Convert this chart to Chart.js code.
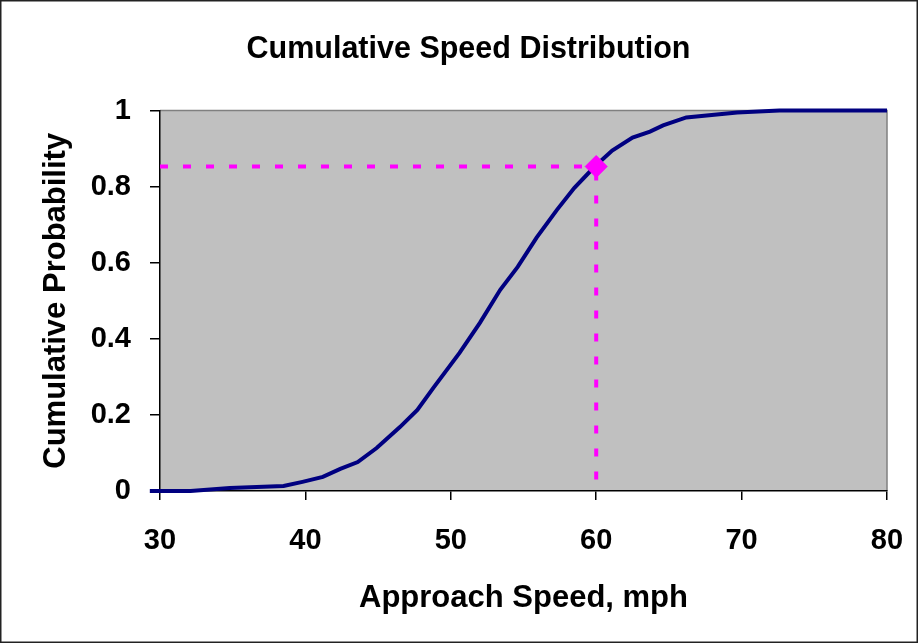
<!DOCTYPE html>
<html>
<head>
<meta charset="utf-8">
<title>Cumulative Speed Distribution</title>
<script src="https://cdn.jsdelivr.net/npm/chart.js@4.4.0/dist/chart.umd.min.js"></script>
<style>
  html, body { margin: 0; padding: 0; background: #fff; }
  #wrap { width: 918px; height: 643px; position: relative; }
</style>
</head>
<body>
<div id="wrap"><canvas id="speedChart"></canvas></div>
<script>
'use strict';

// approach speed (mph) and cumulative probability
const speeds = [29.3, 32.1, 34.8, 38.5, 39.8, 41.2, 42.4, 43.6, 44.9, 46.5, 47.7, 48.8,
  50.6, 52.0, 53.4, 54.6, 55.9, 57.3, 58.5, 59.9, 61.1, 62.5, 63.7, 64.6, 66.2, 69.7, 72.6, 80];
const cumProb = [0, 0, 0.008, 0.013, 0.024, 0.037, 0.058, 0.076, 0.113, 0.168, 0.213, 0.271,
  0.363, 0.442, 0.529, 0.589, 0.666, 0.739, 0.797, 0.853, 0.895, 0.929, 0.945, 0.961, 0.982, 0.995, 1, 1];

// the 85th percentile marker
const markSpeed = 60;
const markProb = 0.853;

const xTicks = [30, 40, 50, 60, 70, 80];
const yTicks = [0, 0.2, 0.4, 0.6, 0.8, 1];

const FONT = 'Arial, "Liberation Sans", sans-serif';
const MAGENTA = '#FF00FF';

const plotBackground = {
  id: 'plotBackground',
  beforeDraw(chart) {
    const { ctx, chartArea: a } = chart;
    ctx.save();
    ctx.fillStyle = '#C0C0C0';
    ctx.fillRect(a.left, a.top, a.right - a.left, a.bottom - a.top);
    ctx.strokeStyle = '#808080';
    ctx.lineWidth = 1.5;
    ctx.beginPath();
    ctx.moveTo(a.left, a.top);
    ctx.lineTo(a.right, a.top);
    ctx.lineTo(a.right, a.bottom);
    ctx.stroke();
    ctx.restore();
  },
  afterDraw(chart) {
    const { ctx, width, height } = chart;
    ctx.save();
    ctx.strokeStyle = '#222';
    ctx.lineWidth = 1.5;
    ctx.strokeRect(0.75, 0.75, width - 1.5, height - 1.5);
    ctx.restore();
  }
};

const ctx = document.getElementById('speedChart');
new Chart(ctx, {
  type: 'line',
  data: {
    datasets: [{
      label: 'horizontal guide',
      data: [{ x: 30, y: markProb }, { x: markSpeed, y: markProb }],
      borderColor: MAGENTA,
      borderWidth: 4,
      borderDash: [8, 15],
      pointRadius: 0,
      order: 3
    }, {
      label: 'vertical guide',
      data: [{ x: markSpeed, y: markProb }, { x: markSpeed, y: 0 }],
      borderColor: MAGENTA,
      borderWidth: 4,
      borderDash: [8, 15],
      borderDashOffset: -6,
      pointRadius: 0,
      order: 3
    }, {
      label: 'Cumulative',
      data: speeds.map((s, i) => ({ x: s, y: cumProb[i] })),
      borderColor: '#000080',
      borderWidth: 4,
      pointRadius: 0,
      tension: 0,
      clip: false,
      order: 2
    }, {
      label: '85th percentile',
      data: [{ x: markSpeed, y: markProb }],
      showLine: false,
      pointStyle: 'rectRot',
      pointRadius: 11,
      pointBackgroundColor: MAGENTA,
      pointBorderColor: MAGENTA,
      order: 1
    }]
  },
  options: {
    responsive: true,
    maintainAspectRatio: false,
    animation: false,
    events: [],
    // left padding pushes the chart title a little right, as in the original
    layout: { padding: { top: 0, left: 50, right: 31, bottom: 0 } },
    plugins: {
      legend: { display: false },
      tooltip: { enabled: false },
      title: {
        display: true,
        text: 'Cumulative Speed Distribution',
        color: '#000',
        font: { family: FONT, size: 30.5, weight: 'bold', lineHeight: 1.2 },
        padding: { top: 31, bottom: 43 }
      }
    },
    scales: {
      x: {
        type: 'linear',
        min: 30, max: 80,
        afterBuildTicks: axis => { axis.ticks = xTicks.map(v => ({ value: v })); },
        afterFit: axis => {
          axis.height = 152;
          axis.paddingLeft = 0;
          axis.paddingRight = 0;
        },
        grid: { display: true, drawOnChartArea: false, drawTicks: true, tickLength: 9, color: '#000', lineWidth: 1.5 },
        border: { display: true, color: '#000', width: 1.5 },
        ticks: { color: '#000', padding: 24, maxRotation: 0, font: { family: FONT, size: 29, weight: 'bold' } },
        title: {
          display: true,
          text: 'Approach Speed, mph',
          color: '#000',
          font: { family: FONT, size: 31, weight: 'bold', lineHeight: 1.2 },
          padding: { top: 0, bottom: 26 }
        }
      },
      y: {
        type: 'linear',
        min: 0, max: 1,
        afterBuildTicks: axis => { axis.ticks = yTicks.map(v => ({ value: v })); },
        afterFit: axis => { axis.width = 110; },
        grid: { display: true, drawOnChartArea: false, drawTicks: true, tickLength: 10, color: '#000', lineWidth: 1.5 },
        border: { display: true, color: '#000', width: 1.5 },
        ticks: {
          color: '#000',
          padding: 19,
          font: { family: FONT, size: 29, weight: 'bold' },
          callback: v => String(v)
        },
        title: {
          display: true,
          text: 'Cumulative Probability',
          color: '#000',
          font: { family: FONT, size: 31, weight: 'bold', lineHeight: 1.2 },
          padding: { top: -12, bottom: 0 }
        }
      }
    }
  },
  plugins: [plotBackground]
});
</script>
</body>
</html>
